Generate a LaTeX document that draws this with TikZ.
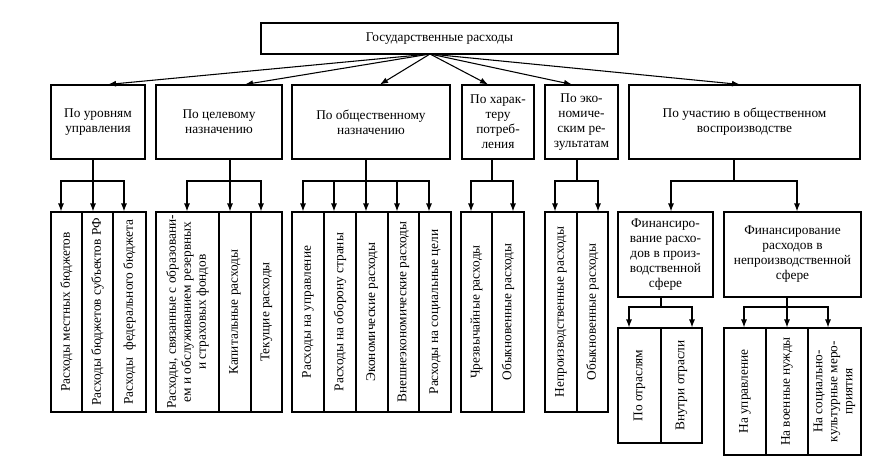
\documentclass[tikz,border=0pt]{standalone}
\usepackage{fontspec}
\setmainfont{Liberation Serif}
\usetikzlibrary{arrows.meta}
\usetikzlibrary{calc}

\tikzset{
  box/.style 2 args={draw, line width=0.8pt, inner sep=1pt, align=center,
    minimum width=#1*0.75pt, minimum height=#2*0.75pt,
    font=\fontsize{10}{11.25}\selectfont},
  % rotated text, reads upwards: .east is the top side
  leaf/.style 2 args={draw, line width=0.8pt, inner sep=1pt, align=center, rotate=90,
    minimum width=#1*0.75pt, minimum height=#2*0.75pt,
    font=\fontsize{10}{11.25}\selectfont},
  arr/.style={line width=0.8pt, -{Latex[length=6pt,width=4.5pt]}},
  ln/.style={line width=0.8pt}
}

\begin{document}
\begin{tikzpicture}[x=0.75pt,y=-0.75pt]
\useasboundingbox (0,0) rectangle (881,465);

% top
\node[box={357}{31}] (top) at (439.5,38.5) {Государственные расходы};
\coordinate (apex) at (430,54);

% categories
\node[box={94}{74}]  (c1) at (98,122)    {По уровням\\управления};
\node[box={126}{74}] (c2) at (219,122)   {По целевому\\назначению};
\node[box={158}{74}] (c3) at (371,122)   {По общественному\\назначению};
\node[box={72}{74}]  (c4) at (498,122)   {По харак-\\теру\\потреб-\\ления};
\node[box={73}{74}]  (c5) at (581.5,122) {По эко-\\номиче-\\ским ре-\\зультатам};
\node[box={231}{74}] (c6) at (744.5,122) {По участию в общественном\\воспроизводстве};

\foreach \c/\dx in {c1/10, c2/26, c3/9, c4/-10, c5/-9.5, c6/-4.5}
  \draw[arr] (apex) -- ($(\c.north)+(\dx,0)$);

% financing boxes
\node[box={95}{85}]  (f1) at (665.5,254.5) {Финансиро-\\вание расхо-\\дов в произ-\\водственной\\сфере};
\node[box={137}{85}] (f2) at (792.5,254.5) {Финансирование\\расходов в\\непроизводственной\\сфере};

% leaves
\node[leaf={200}{31}] (l11) at (66.5,312)  {Расходы местных бюджетов};
\node[leaf={200}{31}] (l12) at (97.5,312)  {Расходы бюджетов субъектов РФ};
\node[leaf={200}{33}] (l13) at (129.5,312) {Расходы~ федерального бюджета};

\node[leaf={200}{63}] (l21) at (187.5,312) {Расходы, связанные с образовани-\\ем и обслуживанием резервных\\и страховых фондов};
\node[leaf={200}{32}] (l22) at (235,312)   {Капитальные расходы};
\node[leaf={200}{31}] (l23) at (266.5,312) {Текущие расходы};

\node[leaf={200}{32}] (l31) at (308,312)   {Расходы на управление};
\node[leaf={200}{32}] (l32) at (340,312)   {Расходы на оборону страны};
\node[leaf={200}{32}] (l33) at (372,312)   {Экономические расходы};
\node[leaf={200}{31}] (l34) at (403.5,312) {Внешнеэкономические расходы};
\node[leaf={200}{32}] (l35) at (435,312)   {Расходы на социальные цели};

\node[leaf={200}{31}] (l41) at (476.5,312) {Чрезвычайные расходы};
\node[leaf={200}{32}] (l42) at (508,312)   {Обыкновенные расходы};

\node[leaf={200}{32}] (l51) at (561,312)   {Непроизводственные расходы};
\node[leaf={200}{31}] (l52) at (592.5,312) {Обыкновенные расходы};

\node[leaf={115}{43}] (l61) at (639.5,385.5) {По отраслям};
\node[leaf={115}{41}] (l62) at (681.5,385.5) {Внутри отрасли};

\node[leaf={127}{42}] (l71) at (745,391.5)   {На управление};
\node[leaf={127}{42}] (l72) at (787,391.5)   {На военные нужды};
\node[leaf={127}{53}] (l73) at (834.5,391.5) {На социально-\\культурные меро-\\приятия};

% branches
\coordinate (j1) at (93,181);
\coordinate (j2) at (230,181);
\coordinate (j3) at (366,181);
\coordinate (j4) at (492,181);
\coordinate (j5) at (577,181);
\coordinate (j6) at (734,181);
\coordinate (j7) at (661,307);
\coordinate (j8) at (787,307);

\draw[ln] (c1.south -| j1) -- (j1);
\draw[ln] (c2.south -| j2) -- (j2);
\draw[ln] (c3.south -| j3) -- (j3);
\draw[ln] (c4.south -| j4) -- (j4);
\draw[ln] (c5.south -| j5) -- (j5);
\draw[ln] (c6.south -| j6) -- (j6);
\draw[ln] (f1.south -| j7) -- (j7);
\draw[ln] (f2.south -| j8) -- (j8);

\foreach \l/\dx in {l11/-5.5, l12/-4.5, l13/-5.5}
  \draw[arr] (j1) -| ($(\l.east)+(\dx,0)$);
\foreach \l/\dx in {l21/-0.5, l22/-5, l23/-5.5}
  \draw[arr] (j2) -| ($(\l.east)+(\dx,0)$);
\foreach \l/\dx in {l31/-5, l32/-6, l33/-6, l34/-6.5, l35/-6}
  \draw[arr] (j3) -| ($(\l.east)+(\dx,0)$);
\foreach \l/\dx in {l41/-5.5, l42/5}
  \draw[arr] (j4) -| ($(\l.east)+(\dx,0)$);
\foreach \l/\dx in {l51/-6, l52/5.5}
  \draw[arr] (j5) -| ($(\l.east)+(\dx,0)$);
\foreach \l/\dx in {f1/5.5, f2/4.5}
  \draw[arr] (j6) -| ($(\l.north)+(\dx,0)$);
\foreach \l/\dx in {l61/-10.5, l62/10.5}
  \draw[arr] (j7) -| ($(\l.east)+(\dx,0)$);
\foreach \l/\dx in {l71/-1, l72/0, l73/-6.5}
  \draw[arr] (j8) -| ($(\l.east)+(\dx,0)$);

\end{tikzpicture}
\end{document}
